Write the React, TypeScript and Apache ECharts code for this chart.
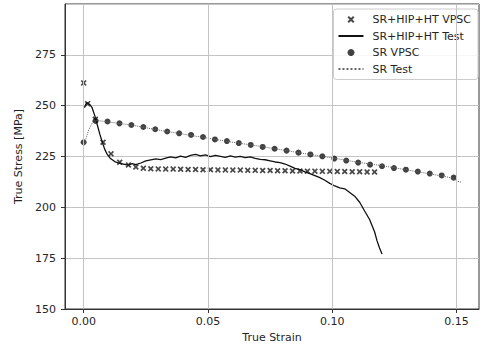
import React, { useEffect, useRef } from "react";
import * as echarts from "echarts";

// SR+HIP+HT VPSC (x markers)
const hipVpscStrain = [
  0, 0.0016, 0.0047, 0.0078, 0.011, 0.0145, 0.018, 0.021, 0.024, 0.027, 0.03,
  0.033, 0.036, 0.039, 0.042, 0.045, 0.048, 0.051, 0.054, 0.057, 0.06, 0.063,
  0.066, 0.069, 0.072, 0.075, 0.078, 0.081, 0.084, 0.087, 0.09, 0.093, 0.096,
  0.099, 0.102, 0.105, 0.108, 0.111, 0.114, 0.117,
];
const hipVpscStress = [
  261.2, 251.0, 243.3, 232.0, 226.3, 222.2, 220.8, 219.8, 219.2, 219.0, 218.9,
  218.8, 218.8, 218.7, 218.6, 218.6, 218.5, 218.5, 218.4, 218.4, 218.3, 218.3,
  218.2, 218.2, 218.1, 218.1, 218.0, 218.0, 217.9, 217.9, 217.8, 217.8, 217.7,
  217.7, 217.6, 217.6, 217.5, 217.5, 217.4, 217.4,
];

// SR+HIP+HT Test (solid line)
const hipTestStrain = [
  0.0003, 0.0012, 0.0025, 0.0034, 0.0045, 0.0055, 0.0065, 0.0075, 0.0085,
  0.0095, 0.0108, 0.0125, 0.014, 0.016, 0.018, 0.0195, 0.021, 0.023, 0.025,
  0.027, 0.029, 0.031, 0.033, 0.035, 0.037, 0.039, 0.041, 0.043, 0.045, 0.047,
  0.049, 0.051, 0.053, 0.055, 0.057, 0.059, 0.061, 0.063, 0.065, 0.067, 0.069,
  0.071, 0.073, 0.075, 0.077, 0.079, 0.081, 0.083, 0.085, 0.087, 0.089, 0.091,
  0.093, 0.095, 0.097, 0.099, 0.101, 0.103, 0.105, 0.107, 0.109, 0.111, 0.113,
  0.115, 0.117, 0.118, 0.119, 0.12,
];
const hipTestStress = [
  249.0, 251.5, 250.5, 249.0, 245.0, 240.5, 236.0, 232.0, 228.5, 226.0, 224.0,
  222.5, 221.8, 221.3, 220.8, 221.5, 221.0, 221.8, 222.8, 223.3, 223.8, 223.5,
  224.2, 224.8, 224.3, 225.2, 224.6, 225.5, 226.0, 225.3, 225.8, 224.9, 225.6,
  225.1, 224.6, 225.3, 224.7, 225.1, 224.4, 224.8, 224.1, 223.6, 223.4, 222.9,
  222.3, 222.0, 221.3, 220.3, 219.2, 218.5, 217.4, 216.6, 215.6, 214.6, 213.3,
  211.8, 210.5, 209.6, 209.1, 207.3, 205.5, 202.5, 198.2, 194.0, 188.0, 183.5,
  180.0, 177.0,
];

// SR VPSC (dots)
const srVpscStrain = [
  0, 0.0048, 0.0096, 0.0144, 0.0192, 0.024, 0.0288, 0.0336, 0.0384, 0.0432,
  0.048, 0.0528, 0.0576, 0.0624, 0.0672, 0.072, 0.0768, 0.0816, 0.0864, 0.0912,
  0.096, 0.1008, 0.1056, 0.1104, 0.1152, 0.12, 0.1248, 0.1296, 0.1344, 0.1392,
  0.144, 0.1488,
];
const srVpscStress = [
  232.0, 242.5, 242.2, 241.3, 240.5, 239.5, 238.4, 237.3, 236.4, 235.6, 234.6,
  233.4, 232.6, 231.6, 230.7, 229.7, 228.8, 227.9, 226.9, 226.0, 225.1, 224.0,
  223.0, 222.0, 221.0, 220.2, 219.3, 218.5, 217.6, 216.6, 215.7, 214.6,
];

// SR Test (dotted line)
const srTestStrain = [
  0, 0.002, 0.004, 0.006, 0.01, 0.02, 0.03, 0.04, 0.05, 0.06, 0.07, 0.08, 0.09,
  0.1, 0.11, 0.12, 0.13, 0.14, 0.148, 0.1505, 0.152,
];
const srTestStress = [
  230.0, 238.0, 242.8, 242.6, 242.0, 240.3, 238.0, 236.0, 234.0, 232.0, 230.2,
  228.2, 226.2, 224.3, 222.2, 220.5, 218.4, 216.3, 214.5, 212.8, 212.3,
];

const xTicks = [0, 0.05, 0.1, 0.15];
const seriesNames = ["SR+HIP+HT VPSC", "SR+HIP+HT Test", "SR VPSC", "SR Test"];

const X_PATH =
  "path://M0,2L2,0L5,3L8,0L10,2L7,5L10,8L8,10L5,7L2,10L0,8L3,5Z";

const zip = (a: number[], b: number[]) => a.map((v, i) => [v, b[i]]);

const TEXT = "#262626";
const FONT = "DejaVu Sans";
const GRID = "#c4c4c4";

export default function App() {
  const ref = useRef<HTMLDivElement>(null);
  useEffect(() => {
    if (!ref.current) return;
    const chart = echarts.init(ref.current, undefined, { renderer: "svg" });
    chart.setOption({
      animation: false,
      backgroundColor: "#ffffff",
      textStyle: { fontFamily: FONT },
      grid: {
        left: 65,
        top: 4,
        right: 2,
        bottom: 39,
        show: true,
        borderColor: "#333",
        borderWidth: 1,
      },
      xAxis: {
        type: "value",
        min: -0.0075,
        max: 0.159,
        name: "True Strain",
        nameLocation: "middle",
        nameGap: 22,
        nameTextStyle: { fontSize: 11, color: TEXT, fontFamily: FONT },
        axisLine: { show: true, onZero: false, lineStyle: { color: "#333" } },
        axisTick: {
          show: true,
          length: 4,
          customValues: xTicks,
          lineStyle: { color: "#333" },
        },
        axisLabel: {
          customValues: xTicks,
          formatter: (v: number) => v.toFixed(2),
          fontSize: 11,
          color: TEXT,
          margin: 7,
          fontFamily: FONT,
        },
        splitLine: { show: false },
      },
      yAxis: {
        type: "value",
        min: 150,
        max: 300,
        interval: 25,
        name: "True Stress [MPa]",
        nameLocation: "middle",
        nameGap: 39,
        nameTextStyle: { fontSize: 11, color: "#222", fontFamily: FONT },
        axisLine: { show: true, onZero: false, lineStyle: { color: "#333" } },
        axisTick: { show: true, length: 4, lineStyle: { color: "#333" } },
        axisLabel: {
          showMaxLabel: false,
          fontSize: 11,
          color: TEXT,
          margin: 9,
          fontFamily: FONT,
        },
        splitLine: { show: true, lineStyle: { color: GRID, width: 1 } },
      },
      legend: {
        orient: "vertical",
        right: 3,
        top: 9,
        itemWidth: 25,
        itemHeight: 7,
        itemGap: 5.5,
        padding: [5, 7, 5, 4],
        backgroundColor: "rgba(255,255,255,0.85)",
        borderColor: "#cccccc",
        borderWidth: 1,
        borderRadius: 3,
        textStyle: {
          fontSize: 11,
          color: TEXT,
          fontFamily: FONT,
          padding: [0, 0, 0, 4],
        },
        data: [
          { name: seriesNames[0] },
          { name: seriesNames[1], itemStyle: { opacity: 0 } },
          { name: seriesNames[2] },
          { name: seriesNames[3], itemStyle: { opacity: 0 } },
        ],
      },
      series: [
        {
          type: "line",
          data: [],
          silent: true,
          markLine: {
            silent: true,
            symbol: "none",
            label: { show: false },
            lineStyle: { color: GRID, width: 1, type: "solid" },
            data: xTicks.map((v) => ({ xAxis: v })),
          },
        },
        {
          name: seriesNames[0],
          type: "scatter",
          data: zip(hipVpscStrain, hipVpscStress),
          symbol: X_PATH,
          symbolSize: 6,
          itemStyle: { color: "#1a1a1a" },
        },
        {
          name: seriesNames[1],
          type: "line",
          data: zip(hipTestStrain, hipTestStress),
          symbol: "none",
          showSymbol: false,
          lineStyle: { color: "#111", width: 1.3 },
          itemStyle: { color: "#111" },
        },
        {
          name: seriesNames[2],
          type: "scatter",
          data: zip(srVpscStrain, srVpscStress),
          symbol: "circle",
          symbolSize: 6,
          itemStyle: { color: "#111" },
        },
        {
          name: seriesNames[3],
          type: "line",
          data: zip(srTestStrain, srTestStress),
          symbol: "none",
          showSymbol: false,
          lineStyle: { color: "#666", width: 1, type: "dotted" },
          itemStyle: { color: "#666" },
        },
      ],
    });
    return () => chart.dispose();
  }, []);
  return (
    <div
      ref={ref}
      style={{ position: "fixed", left: 0, top: 0, width: 481, height: 348 }}
    />
  );
}
